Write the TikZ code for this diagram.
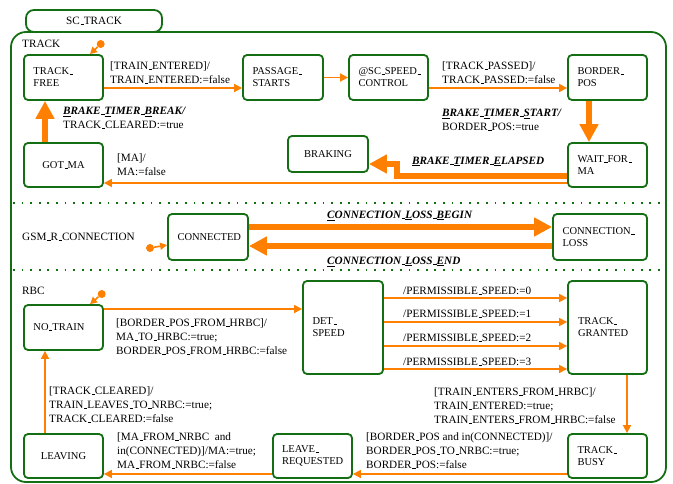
\documentclass[tikz,border=0pt]{standalone}
\usepackage{fontspec}
\setmainfont{Liberation Serif}
\usetikzlibrary{arrows.meta}
\definecolor{stgreen}{RGB}{20,110,20}
\definecolor{trorange}{RGB}{255,128,0}
% low rule used as the underscore in identifiers
\newcommand\us{\leavevmode\kern.06em\vbox{\hrule width .3em height .5pt}}
% events are set in bold italic
\newcommand\kw[1]{\textbf{\textit{#1}}}
\newcommand\labfont{\fontsize{11.2}{14}\selectfont}
\newcommand\boxfont{\fontsize{10.5}{12}\selectfont}
\begin{document}
\begin{tikzpicture}[x=1pt,y=-1pt,
  state/.style={draw=stgreen,line width=1.8pt,rounded corners=4pt,fill=white,
    inner sep=0pt,font=\boxfont,align=left},
  sz/.style n args={3}{minimum width=#1,minimum height=#2,text width=#3},
  lab/.style={anchor=north west,inner sep=0pt,font=\labfont,align=left,
    execute at begin node=\rule{0pt}{8pt}},
  tarrow/.style={draw=trorange,line width=1.6pt,-{Triangle[length=8pt,width=8pt]}},
  barrow/.style={draw=trorange,line width=6.5pt,-{Triangle[length=18pt,width=18pt]}},
  initdot/.style={circle,fill=trorange,inner sep=0pt,minimum size=8pt},
  sep/.style={draw=stgreen,line width=1.8pt,dash pattern=on 1.8pt off 6.8pt}]
\path[use as bounding box] (0,0) rectangle (673,484);

% frame of the chart with its name tab
\node[draw=stgreen,line width=1.8pt,rounded corners=8pt,minimum width=136pt,
  minimum height=22pt,inner sep=0pt,font=\labfont] (tab) at (94,21) {SC\us TRACK};
\draw[stgreen,line width=1.8pt,rounded corners=15pt] (11,32) rectangle (666,482);
\draw[sep] (13,203) -- (665,203);
\draw[sep] (13,270) -- (665,270);

% region labels
\node[lab] (rtrack) at (22,39) {TRACK};
\node[lab] (rgsm) at (22,232) {GSM\us R\us CONNECTION};
\node[lab] (rrbc) at (22,286) {RBC};

% TRACK region states
\node[state,sz={79pt}{45pt}{60pt}] (TF) at (63.5,77.5) {TRACK\us\\FREE};
\node[state,sz={80pt}{45pt}{61pt}] (PS) at (283,77.5) {PASSAGE\us\\STARTS};
\node[state,sz={79pt}{45pt}{60pt}] (SC) at (388.5,77.5) {@SC\us SPEED\us\\CONTROL};
\node[state,sz={79pt}{45pt}{60pt}] (BP) at (607.5,77.5) {BORDER\us\\POS};
\node[state,sz={79pt}{44pt}{60pt}] (WM) at (607.5,165) {WAIT\us FOR\us\\MA};
\node[state,sz={80pt}{36pt}{61pt},align=center] (BR) at (328,154) {BRAKING};
\node[state,sz={79pt}{44pt}{60pt},align=center] (GM) at (63.5,165) {GOT\us MA};

% GSM-R region states
\node[state,sz={80pt}{46pt}{61pt},align=center] (CON) at (208,237) {CONNECTED};
\node[state,sz={94pt}{46pt}{75pt}] (CL) at (600,237) {CONNECTION\us\\LOSS};

% RBC region states
\node[state,sz={79pt}{45pt}{60pt}] (NT) at (63.5,327.5) {NO\us TRAIN};
\node[state,sz={80pt}{93pt}{61pt}] (DS) at (343,327.5) {DET\us\\SPEED};
\node[state,sz={79pt}{93pt}{59pt}] (TG) at (607.5,327.5) {TRACK\us\\GRANTED};
\node[state,sz={79pt}{44pt}{60pt}] (TB) at (607.5,456) {TRACK\us\\BUSY};
\node[state,sz={79pt}{44pt}{61pt}] (LR) at (312.5,456) {LEAVE\us\\REQUESTED};
\node[state,sz={79pt}{44pt}{60pt},align=center] (LV) at (63.5,456) {LEAVING};

% initial pseudo-states
\node[initdot] (i1) at (100.7,44) {};
\node[initdot] (i2) at (150,248) {};
\node[initdot] (i3) at (101.7,294) {};
\draw[tarrow,-{Triangle[length=7pt,width=7pt]}] (i1) -- ([xshift=26.5pt]TF.north);
\draw[tarrow,-{Triangle[length=7pt,width=7pt]}] (i2) -- ([yshift=-8pt]CON.west);
\draw[tarrow,-{Triangle[length=7pt,width=7pt]}] (i3) -- ([xshift=26.5pt]NT.north);

% TRACK transitions
\draw[tarrow] ([yshift=-10.5pt]TF.east) -- ([yshift=-10.5pt]PS.west);
\draw[tarrow] (PS.east) -- (SC.west);
\draw[tarrow] ([yshift=-10.5pt]SC.east) -- ([yshift=-10.5pt]BP.west);
\draw[barrow] ([xshift=-18.5pt]BP.south) -- ([xshift=-18.5pt]WM.north);
\draw[barrow] ([yshift=-11pt]WM.west) -| ([xshift=28pt,yshift=-10pt]BR.east)
  -- ([yshift=-10pt]BR.east);
\draw[tarrow] ([yshift=-18pt]WM.west) -- ([yshift=-18pt]GM.east);
\draw[barrow] ([xshift=-18.5pt]GM.north) -- ([xshift=-18.5pt]TF.south);

\node[lab] (l1) at (110,62) {[TRAIN\us ENTERED]/\\TRAIN\us ENTERED:=false};
\node[lab] (l2) at (442,62) {[TRACK\us PASSED]/\\TRACK\us PASSED:=false};
\node[lab] (l3) at (442,109)
  {\kw{\underline{B}RAKE\us\underline{T}IMER\us\underline{S}TART/}\\BORDER\us POS:=true};
\node[lab] (l4) at (63,107)
  {\kw{\underline{B}RAKE\us\underline{T}IMER\us\underline{B}REAK/}\\TRACK\us CLEARED:=true};
\node[lab] (l5) at (117,154) {[MA]/\\MA:=false};
\node[lab] (l6) at (412,156) {\kw{\underline{B}RAKE\us\underline{T}IMER\us\underline{E}LAPSED}};

% GSM-R transitions
\draw[barrow] ([yshift=10pt]CON.east) -- ([yshift=10pt]CL.west);
\draw[barrow] ([yshift=-9pt]CL.west) -- ([yshift=-9pt]CON.east);
\node[lab] (l7) at (327,210)
  {\kw{\underline{C}ONNECTION\us\underline{L}OSS\us\underline{B}EGIN}};
\node[lab] (l8) at (327,256)
  {\kw{\underline{C}ONNECTION\us\underline{L}OSS\us\underline{E}ND}};

% RBC transitions
\draw[tarrow] ([yshift=18.5pt]NT.east) -- ([yshift=18.5pt]DS.west);
\draw[tarrow] ([yshift=29.5pt]DS.east) -- ([yshift=29.5pt]TG.west);
\draw[tarrow] ([yshift=5.5pt]DS.east) -- ([yshift=5.5pt]TG.west);
\draw[tarrow] ([yshift=-18.5pt]DS.east) -- ([yshift=-18.5pt]TG.west);
\draw[tarrow] ([yshift=-41.5pt]DS.east) -- ([yshift=-41.5pt]TG.west);
\draw[tarrow] ([xshift=19.5pt]TG.south) -- ([xshift=19.5pt]TB.north);
\draw[tarrow] ([yshift=-18pt]TB.west) -- ([yshift=-18pt]LR.east);
\draw[tarrow] ([yshift=-18pt]LR.west) -- ([yshift=-18pt]LV.east);
\draw[tarrow] ([xshift=-18.5pt]LV.north) -- ([xshift=-18.5pt]NT.south);

\node[lab] (l9) at (116,319)
  {[BORDER\us POS\us FROM\us HRBC]/\\MA\us TO\us HRBC:=true;\\BORDER\us POS\us FROM\us HRBC:=false};
\node[lab] (p0) at (403,286) {/PERMISSIBLE\us SPEED:=0};
\node[lab] (p1) at (403,309) {/PERMISSIBLE\us SPEED:=1};
\node[lab] (p2) at (403,333) {/PERMISSIBLE\us SPEED:=2};
\node[lab] (p3) at (403,357) {/PERMISSIBLE\us SPEED:=3};
\node[lab] (l10) at (434,388)
  {[TRAIN\us ENTERS\us FROM\us HRBC]/\\TRAIN\us ENTERED:=true;\\TRAIN\us ENTERS\us FROM\us HRBC:=false};
\node[lab] (l11) at (366,433)
  {[BORDER\us POS and in(CONNECTED)]/\\BORDER\us POS\us TO\us NRBC:=true;\\BORDER\us POS:=false};
\node[lab] (l12) at (117,433)
  {[MA\us FROM\us NRBC\ \ and\\in(CONNECTED)]/MA:=true;\\MA\us FROM\us NRBC:=false};
\node[lab] (l13) at (49,387)
  {[TRACK\us CLEARED]/\\TRAIN\us LEAVES\us TO\us NRBC:=true;\\TRACK\us CLEARED:=false};
\end{tikzpicture}
\end{document}
